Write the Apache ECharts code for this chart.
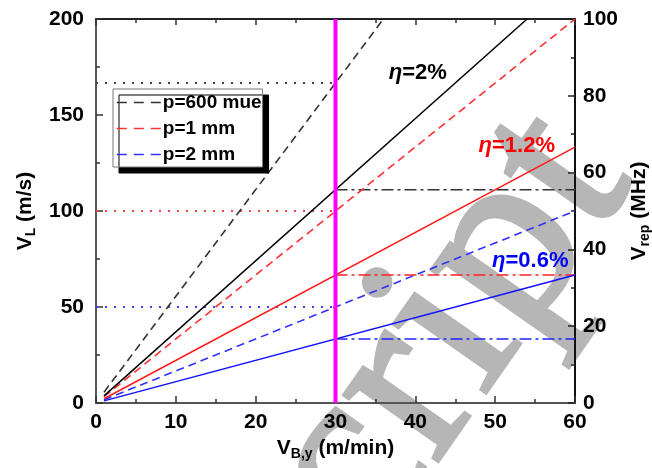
<!DOCTYPE html>
<html>
<head>
<meta charset="utf-8">
<script src="https://cdn.jsdelivr.net/npm/echarts@6/dist/echarts.min.js"></script>
<style>html,body{margin:0;padding:0;background:#fff}#c{width:652px;height:468px}</style>
</head>
<body>
<div id="c"></div>
<script>
// ---- data ----
const xTicks = [0, 10, 20, 30, 40, 50, 60];
const yLeftTicks = [0, 50, 100, 150, 200];
const yRightTicks = [0, 20, 40, 60, 80, 100];
const legendNames = ['p=600 mue', 'p=1 mm', 'p=2 mm'];
const blackSolid = [[1, 3.7], [54, 200]];
const redSolid = [[1, 2.2], [60, 133.3]];
const blueSolid = [[1, 1.1], [60, 66.7]];
const blackDashed = [[1, 5.6], [36, 200]];
const redDashed = [[1, 3.3], [60, 200]];
const blueDashed = [[1, 1.7], [60, 100]];
const blackDotted = [[0, 166.7], [30, 166.7]];
const redDotted = [[0, 100], [30, 100]];
const blueDotted = [[0, 50], [30, 50]];
const blackDashDot = [[30, 111.1], [60, 111.1]];
const redDashDot = [[30, 66.7], [60, 66.7]];
const blueDashDot = [[30, 33.3], [60, 33.3]];
const magentaLine = [[30, 0], [30, 200]];
const etaLabels = [
  { pos: [40.3, 172], text: '2%', color: 'black' },
  { pos: [52.7, 134], text: '1.2%', color: '#ff0000' },
  { pos: [54.4, 74], text: '0.6%', color: '#0000ff' }
];

const FF = "Arial, 'Liberation Sans', sans-serif";
const chart = echarts.init(document.getElementById('c'), null, { renderer: 'canvas' });

function line(name, data, color, type, width, z) {
  return {
    name: name, type: 'line', data: data, symbol: 'none', showSymbol: false,
    lineStyle: { color: color, width: width, type: type },
    itemStyle: { color: color },
    z: z || 2, silent: true, animation: false
  };
}

const dash = [8, 5];
const dotted = [2, 7];
const dashDot = [12, 4, 3, 4];

const series = [
  line('blackDotted', blackDotted, '#444444', dotted, 2),
  line('redDotted', redDotted, '#ff4040', dotted, 2),
  line('blueDotted', blueDotted, '#4040ff', dotted, 2),
  line('blackDashDot', blackDashDot, '#333333', dashDot, 1.5),
  line('redDashDot', redDashDot, '#ff2020', dashDot, 1.5),
  line('blueDashDot', blueDashDot, '#2020ff', dashDot, 1.5),
  line(legendNames[0], blackDashed, '#333333', dash, 1.6),
  line(legendNames[1], redDashed, '#ff3030', dash, 1.6),
  line(legendNames[2], blueDashed, '#3030ff', dash, 1.6),
  line('blackSolid', blackSolid, '#000000', 'solid', 1.5),
  line('redSolid', redSolid, '#ff1a1a', 'solid', 1.5),
  line('blueSolid', blueSolid, '#1010ff', 'solid', 1.5),
  line('magenta', magentaLine, '#ff00ff', 'solid', 4, 3),
  {
    name: 'eta', type: 'scatter', symbolSize: 0, silent: true, animation: false, z: 4,
    itemStyle: { color: 'black' },
    data: etaLabels.map(function (d) {
      return {
        value: d.pos, txt: d.text,
        label: { color: d.color, rich: { e: { color: d.color }, t: { color: d.color } } }
      };
    }),
    label: {
      show: true, position: 'inside', color: 'black', textBorderWidth: 0, opacity: 1,
      formatter: function (p) { return '{e|η}{t|=' + p.data.txt + '}'; },
      rich: {
        e: { fontFamily: FF, fontSize: 22, fontWeight: 'bold', fontStyle: 'italic', opacity: 1 },
        t: { fontFamily: FF, fontSize: 22, fontWeight: 'bold', opacity: 1 }
      }
    }
  }
];

const labelStyle = { fontFamily: FF, fontSize: 21, fontWeight: 'bold', color: '#000' };
const nameRich = {
  v: { fontFamily: FF, fontSize: 21, fontWeight: 'bold', color: '#000', lineHeight: 26 },
  s: { fontFamily: FF, fontSize: 14, fontWeight: 'bold', color: '#000', verticalAlign: 'bottom', lineHeight: 16 }
};

chart.setOption({
  backgroundColor: '#ffffff',
  animation: false,
  graphic: [{
    type: 'text', x: 262, y: 598, rotation: 55 * Math.PI / 180, z: -10, silent: true,
    style: {
      text: 'script', font: "250px 'Liberation Serif', 'DejaVu Serif', serif",
      fill: '#b6b6b6', stroke: '#b6b6b6', lineWidth: 4,
      textAlign: 'left', textVerticalAlign: 'middle'
    }
  }],
  grid: { left: 96, right: 77, top: 19, bottom: 65, containLabel: false, outerBoundsMode: 'none' },
  legend: {
    data: legendNames, orient: 'vertical', left: 113, top: 89,
    padding: [4, 1, 3, 3], itemWidth: 44, itemHeight: 14, itemGap: 7,
    backgroundColor: '#ffffff', borderColor: '#777777', borderWidth: 1,
    shadowColor: '#000000', shadowOffsetX: 6, shadowOffsetY: 6, shadowBlur: 0.01,
    itemStyle: { opacity: 0, color: 'transparent', borderWidth: 0 },
    lineStyle: { type: [10, 7], width: 1.6 },
    textStyle: { fontFamily: FF, fontSize: 19, fontWeight: 'bold', color: '#000', padding: [0, 0, 0, -3] },
    selectedMode: false
  },
  xAxis: [{
    type: 'value', min: 0, max: 60, interval: 10, position: 'bottom',
    name: '{v|V}{s|B,y}{v| (m/min)}', nameLocation: 'middle', nameGap: 31,
    nameTextStyle: { rich: nameRich },
    axisLine: { show: true, onZero: false, lineStyle: { color: '#555', width: 2 } },
    axisTick: { show: true, inside: true, length: 7, lineStyle: { color: '#333', width: 1.5 } },
    minorTick: { show: true, splitNumber: 2, length: 4, lineStyle: { color: '#333', width: 1.5 } },
    axisLabel: Object.assign({ margin: 9, formatter: function (v) { return xTicks.indexOf(v) >= 0 ? String(v) : ''; } }, labelStyle),
    splitLine: { show: false }
  }, {
    type: 'value', min: 0, max: 60, interval: 10, position: 'top',
    axisLine: { show: true, onZero: false, lineStyle: { color: '#222', width: 2 } },
    axisTick: { show: true, inside: true, length: 6, lineStyle: { color: '#333', width: 1.5 } },
    minorTick: { show: true, splitNumber: 2, length: 4, lineStyle: { color: '#333', width: 1.5 } },
    axisLabel: { show: false },
    splitLine: { show: false }
  }],
  yAxis: [{
    type: 'value', min: 0, max: 200, interval: 50, position: 'left',
    name: '{v|V}{s|L}{v| (m/s)}', nameLocation: 'middle', nameGap: 57, nameRotate: 90,
    nameTextStyle: { rich: nameRich },
    axisLine: { show: true, onZero: false, lineStyle: { color: '#555', width: 2 } },
    axisTick: { show: true, inside: true, length: 7, lineStyle: { color: '#333', width: 1.5 } },
    minorTick: { show: true, splitNumber: 2, length: 4, lineStyle: { color: '#333', width: 1.5 } },
    axisLabel: Object.assign({ margin: 12, formatter: function (v) { return yLeftTicks.indexOf(v) >= 0 ? String(v) : ''; } }, labelStyle),
    splitLine: { show: false }
  }, {
    type: 'value', min: 0, max: 100, interval: 20, position: 'right',
    name: '{v|V}{s|rep}{v| (MHz)}', nameLocation: 'middle', nameGap: 42, nameRotate: 90,
    nameTextStyle: { rich: nameRich },
    axisLine: { show: true, onZero: false, lineStyle: { color: '#111', width: 2 } },
    axisTick: { show: true, inside: true, length: 7, lineStyle: { color: '#222', width: 1.5 } },
    minorTick: { show: true, splitNumber: 2, length: 4, lineStyle: { color: '#222', width: 1.5 } },
    axisLabel: Object.assign({ margin: 8, formatter: function (v) { return yRightTicks.indexOf(v) >= 0 ? String(v) : ''; } }, labelStyle),
    splitLine: { show: false }
  }],
  series: series
});
</script>
</body>
</html>
